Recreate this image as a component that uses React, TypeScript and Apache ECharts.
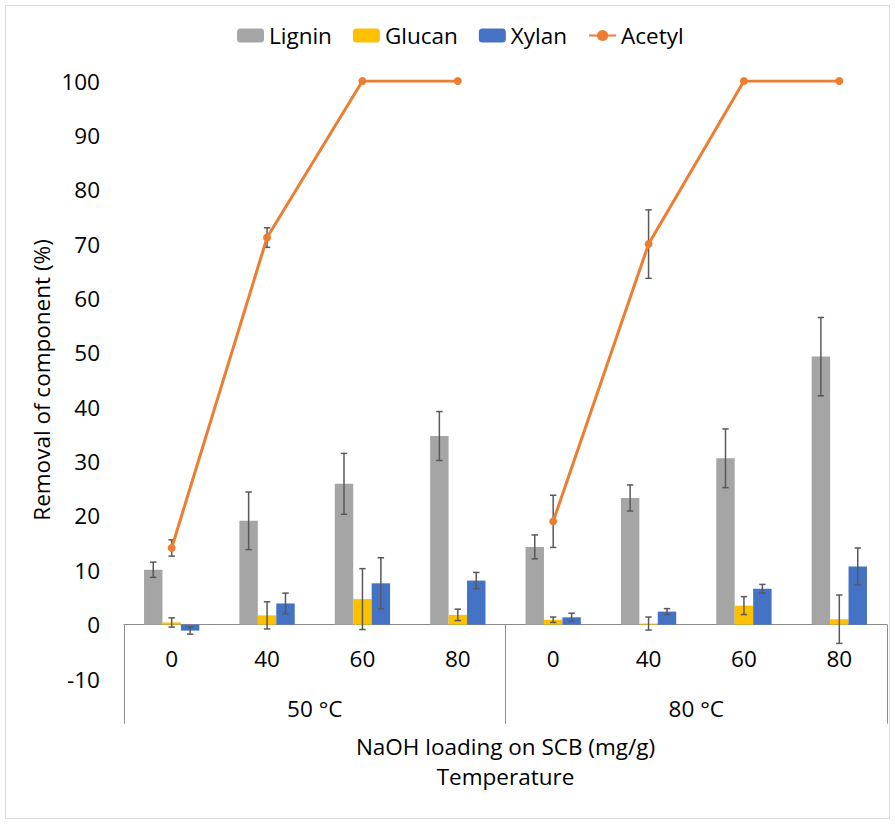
import React, { useEffect, useRef } from 'react';
import * as echarts from 'echarts';

const temperatures = ['50 °C', '80 °C'];
const naohLoadings = ['0', '40', '60', '80'];
const categories = [...naohLoadings, ...naohLoadings];

const lignin = [10.1, 19.1, 25.9, 34.7, 14.3, 23.3, 30.6, 49.3];
const ligninErr = [1.4, 5.3, 5.6, 4.5, 2.2, 2.4, 5.4, 7.2];
const glucan = [0.4, 1.7, 4.7, 1.8, 0.9, 0.2, 3.5, 1.0];
const glucanErr = [0.85, 2.5, 5.6, 1.05, 0.5, 1.2, 1.65, 4.45];
const xylan = [-1.1, 3.9, 7.6, 8.1, 1.35, 2.4, 6.6, 10.7];
const xylanErr = [0.65, 1.9, 4.7, 1.5, 0.75, 0.55, 0.8, 3.4];
const acetyl = [14.1, 71.2, 100, 100, 19.0, 70.0, 100, 100];
const acetylErr = [1.5, 1.8, 0, 0, 4.8, 6.3, 0, 0];

const yTicks = { min: -10, max: 100, interval: 10 };

const FONT = '"Open Sans", sans-serif';
const FS = 22.5;
const TEXT = '#000000';
const AXIS = '#8c8c8c';
const ERR = '#595959';
const COLORS = { lignin: '#A5A5A5', glucan: '#FFC000', xylan: '#4472C4', acetyl: '#ED7D31' };

export default function App() {
  const ref = useRef<HTMLDivElement>(null);

  useEffect(() => {
    document.body.style.margin = '0';
    const chart = echarts.init(ref.current as HTMLDivElement, null, { renderer: 'svg' });
    const H = 825;
    const grid = { left: 124, right: 8, top: 81, bottom: 146 };
    const gridH = H - grid.top - grid.bottom;
    const zeroFromBottom = (gridH * (0 - yTicks.min)) / (yTicks.max - yTicks.min);
    const gapRatio = 0.42;

    const errorSeries = (name: string, values: number[], errs: number[], slot: number, z: number) => ({
      type: 'custom',
      name: name + ' error',
      xAxisIndex: 0,
      yAxisIndex: 0,
      z,
      silent: true,
      data: values
        .map((v, i) => [i, v - errs[i], v + errs[i], slot, errs[i]])
        .filter((d) => (d[4] as number) > 0),
      renderItem: (params: any, api: any) => {
        const xi = api.value(0);
        const lo = api.value(1);
        const hi = api.value(2);
        const off = api.value(3);
        const band = api.size([1, 0])[0];
        const barW = (band * (1 - gapRatio)) / 3;
        const top = api.coord([xi, hi]);
        const bot = api.coord([xi, lo]);
        const x = top[0] + off * barW;
        const cap = 3.2;
        const st = { stroke: ERR, lineWidth: 1.5 };
        return {
          type: 'group',
          children: [
            { type: 'line', shape: { x1: x, y1: top[1], x2: x, y2: bot[1] }, style: st },
            { type: 'line', shape: { x1: x - cap, y1: top[1], x2: x + cap, y2: top[1] }, style: st },
            { type: 'line', shape: { x1: x - cap, y1: bot[1], x2: x + cap, y2: bot[1] }, style: st },
          ],
        };
      },
    });

    const acetylLine = (part: number) => ({
      type: 'line',
      name: 'Acetyl',
      data: acetyl.map((v, i) => (Math.floor(i / 4) === part ? v : '-')),
      itemStyle: { color: COLORS.acetyl },
      lineStyle: { color: COLORS.acetyl, width: 3 },
      symbol: 'circle',
      symbolSize: 8,
      showSymbol: true,
      connectNulls: false,
      z: 6,
    });

    const textStyle = { fontFamily: FONT, fontSize: FS, color: TEXT };

    chart.setOption({
      animation: false,
      backgroundColor: '#ffffff',
      textStyle: { fontFamily: FONT },
      legend: {
        data: ['Lignin', 'Glucan', 'Xylan', 'Acetyl'],
        left: 232,
        top: 19,
        itemWidth: 27,
        itemHeight: 14,
        itemGap: 21,
        textStyle: { ...textStyle },
      },
      grid: { ...grid, containLabel: false, outerBoundsMode: 'none' },
      xAxis: [
        {
          type: 'category',
          data: categories,
          position: 'bottom',
          offset: -zeroFromBottom,
          boundaryGap: true,
          axisLine: { show: true, onZero: false, lineStyle: { color: AXIS, width: 1 } },
          axisTick: { show: false },
          axisLabel: { ...textStyle, margin: 22, interval: 0 },
          splitLine: { show: false },
          name: 'NaOH loading on SCB (mg/g)\nTemperature',
          nameLocation: 'middle',
          nameGap: 107,
          nameTextStyle: { ...textStyle, lineHeight: 30 },
        },
        {
          type: 'category',
          data: temperatures,
          position: 'bottom',
          offset: -zeroFromBottom,
          boundaryGap: true,
          axisLine: { show: false, onZero: false },
          axisTick: { show: true, length: 99, lineStyle: { color: AXIS, width: 1 } },
          axisLabel: { ...textStyle, margin: 72, interval: 0 },
          splitLine: { show: false },
        },
      ],
      yAxis: {
        type: 'value',
        min: yTicks.min,
        max: yTicks.max,
        interval: yTicks.interval,
        axisLine: { show: false },
        axisTick: { show: false },
        splitLine: { show: false },
        axisLabel: { ...textStyle, margin: 24 },
      },
      graphic: [
        {
          type: 'rect',
          shape: { x: 5.5, y: 5.5, width: 884, height: 813 },
          style: { fill: 'none', stroke: '#d9d9d9', lineWidth: 1 },
          silent: true,
        },
        {
          type: 'text',
          x: 41,
          y: 380,
          rotation: Math.PI / 2,
          style: {
            text: 'Removal of component (%)',
            fontFamily: FONT,
            fontSize: FS,
            fill: TEXT,
            align: 'center',
            verticalAlign: 'middle',
            textAlign: 'center',
            textVerticalAlign: 'middle',
          },
          silent: true,
        },
      ],
      series: [
        {
          type: 'bar',
          name: 'Lignin',
          data: lignin,
          itemStyle: { color: COLORS.lignin },
          barGap: '0%',
          barCategoryGap: '42%',
          z: 2,
        },
        {
          type: 'bar',
          name: 'Glucan',
          data: glucan,
          itemStyle: { color: COLORS.glucan },
          barGap: '0%',
          barCategoryGap: '42%',
          z: 2,
        },
        {
          type: 'bar',
          name: 'Xylan',
          data: xylan,
          itemStyle: { color: COLORS.xylan },
          barGap: '0%',
          barCategoryGap: '42%',
          z: 2,
        },
        errorSeries('Lignin', lignin, ligninErr, -1, 3),
        errorSeries('Glucan', glucan, glucanErr, 0, 3),
        errorSeries('Xylan', xylan, xylanErr, 1, 3),
        errorSeries('Acetyl', acetyl, acetylErr, 0, 5),
        acetylLine(0),
        acetylLine(1),
      ],
    });

    return () => {
      chart.dispose();
    };
  }, []);

  return <div ref={ref} style={{ width: 895, height: 825 }} />;
}
